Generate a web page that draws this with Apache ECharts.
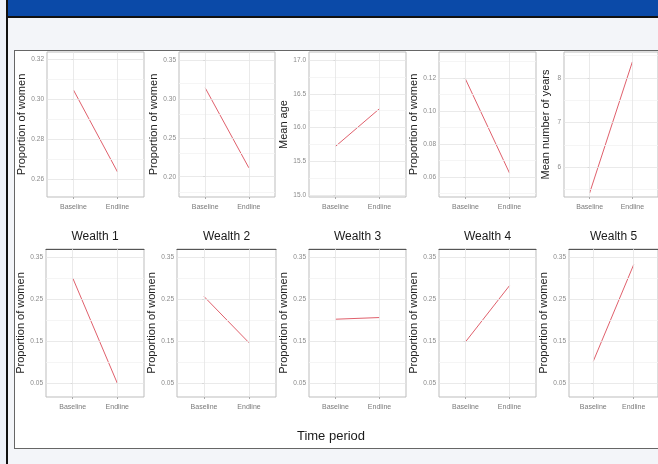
<!DOCTYPE html>
<html>
<head>
<meta charset="utf-8">
<script src="https://cdn.jsdelivr.net/npm/echarts@6/dist/echarts.min.js"></script>
<style>
  html, body { margin: 0; padding: 0; width: 658px; height: 464px; overflow: hidden; background: #f3f5f9; }
  #side { position: absolute; left: 0; top: 0; width: 6px; height: 464px; background: #eef2f9; border-right: 2px solid #111; }
  #bar { position: absolute; left: 8px; top: 0; width: 650px; height: 16px; background: #0b4aa8; border-bottom: 2px solid #111; }
  #frame { position: absolute; left: 14px; top: 50px; width: 660px; height: 397px; background: #fff; border: 1px solid #666; }
  #chart { position: absolute; left: 0; top: 0; width: 658px; height: 464px; }
</style>
</head>
<body>
<div id="side"></div>
<div id="bar"></div>
<div id="frame"></div>
<div id="chart"></div>
<script>
// Survey rounds on the x axis
const periods = ['Baseline', 'Endline'];

// Top row indicators
const womenShareA = [0.3045, 0.2635];
const womenShareB = [0.314, 0.2115];
const meanAge = [15.72, 16.28];
const womenShareD = [0.1194, 0.0624];
const meanYears = [5.42, 8.36];

// Wealth quintiles: proportion of women
const wealth1 = [0.300, 0.050];
const wealth2 = [0.256, 0.146];
const wealth3 = [0.202, 0.206];
const wealth4 = [0.148, 0.282];
const wealth5 = [0.102, 0.332];

// Tick labels
const ticksA = [0.26, 0.28, 0.30, 0.32];
const ticksB = [0.20, 0.25, 0.30, 0.35];
const ticksAge = [15.0, 15.5, 16.0, 16.5, 17.0];
const ticksD = [0.06, 0.08, 0.10, 0.12];
const ticksYears = [6, 7, 8];
const ticksWealth = [0.05, 0.15, 0.25, 0.35];

const wealthTitles = ['Wealth 1', 'Wealth 2', 'Wealth 3', 'Wealth 4', 'Wealth 5'];
const propLabel = 'Proportion of women';

// Panel layout (pixels) and axis ranges
const ROW1 = { top: 52, height: 145 };
const ROW2 = { top: 249, height: 148 };
const panels = [
  { vals: womenShareA, ticks: ticksA, dec: 2, min: 0.251, max: 0.3235, name: propLabel, left: 47, width: 97, row: ROW1, gap: 18 },
  { vals: womenShareB, ticks: ticksB, dec: 2, min: 0.174, max: 0.360, name: propLabel, left: 179, width: 96, row: ROW1, gap: 18 },
  { vals: meanAge, ticks: ticksAge, dec: 1, min: 14.97, max: 17.12, name: 'Mean age', left: 309, width: 97, row: ROW1, gap: 18 },
  { vals: womenShareD, ticks: ticksD, dec: 2, min: 0.0479, max: 0.1358, name: propLabel, left: 439, width: 97, row: ROW1, gap: 20 },
  { vals: meanYears, ticks: ticksYears, dec: 0, min: 5.33, max: 8.58, name: 'Mean number of years', left: 564, width: 100, row: ROW1, gap: 13 },
  { vals: wealth1, ticks: ticksWealth, dec: 2, min: 0.017, max: 0.369, name: propLabel, left: 46, width: 98, row: ROW2, gap: 17, title: wealthTitles[0] },
  { vals: wealth2, ticks: ticksWealth, dec: 2, min: 0.017, max: 0.369, name: propLabel, left: 177, width: 99, row: ROW2, gap: 16, title: wealthTitles[1] },
  { vals: wealth3, ticks: ticksWealth, dec: 2, min: 0.017, max: 0.369, name: propLabel, left: 309, width: 97, row: ROW2, gap: 18, title: wealthTitles[2] },
  { vals: wealth4, ticks: ticksWealth, dec: 2, min: 0.017, max: 0.369, name: propLabel, left: 439, width: 97, row: ROW2, gap: 18, title: wealthTitles[3] },
  { vals: wealth5, ticks: ticksWealth, dec: 2, min: 0.017, max: 0.369, name: propLabel, left: 569, width: 100, row: ROW2, gap: 18, title: wealthTitles[4] }
];

const FONT = '"Liberation Sans", Arial, sans-serif';

// Minor grid positions: halfway between major ticks, plus one step beyond each end when in range
function minorValues(ticks, min, max) {
  const out = [];
  const step = ticks[1] - ticks[0];
  const ext = [ticks[0] - step].concat(ticks);
  for (let i = 0; i < ext.length; i++) {
    const m = ext[i] + step / 2;
    if (m > min && m < max) out.push(m);
  }
  return out;
}

const grid = [], xAxis = [], yAxis = [], series = [];
panels.forEach((p, i) => {
  grid.push({
    left: p.left, top: p.row.top, width: p.width, height: p.row.height,
    show: true, backgroundColor: '#ffffff', borderColor: '#bdbdbd', borderWidth: 1
  });
  xAxis.push({
    gridIndex: i, type: 'value', position: 'bottom', min: -0.6, max: 1.6,
    axisLine: { show: false },
    axisTick: { show: true, customValues: [0, 1], length: 2, lineStyle: { color: '#aaaaaa' } },
    axisLabel: {
      customValues: [0, 1], formatter: v => periods[Math.round(v)],
      fontSize: 7, color: '#7a7a7a', margin: 7, fontFamily: FONT
    },
    splitLine: { show: false }
  });
  yAxis.push({
    gridIndex: i, type: 'value', min: p.min, max: p.max,
    axisLine: { show: false },
    axisTick: { show: true, customValues: p.ticks, length: 2, lineStyle: { color: '#aaaaaa' } },
    axisLabel: {
      customValues: p.ticks, formatter: v => Number(v).toFixed(p.dec),
      fontSize: 6.5, color: '#8a8a8a', margin: 3, fontFamily: FONT
    },
    splitLine: { show: false },
    name: p.name, nameLocation: 'middle', nameGap: p.gap, nameRotate: 90,
    nameTextStyle: { fontSize: 11, color: '#222222', fontFamily: FONT }
  });

  // Panel grid lines drawn on the panel's own scales
  const lines = [];
  minorValues(p.ticks, p.min, p.max).forEach(v => lines.push({ yAxis: v, lineStyle: { color: '#f3f3f3' } }));
  p.ticks.forEach(v => lines.push({ yAxis: v, lineStyle: { color: '#e4e4e4' } }));
  [0, 1].forEach(v => lines.push({ xAxis: v, lineStyle: { color: '#e4e4e4' } }));
  series.push({
    type: 'line', xAxisIndex: i, yAxisIndex: i, data: [], z: 1, silent: true,
    markLine: {
      silent: true, symbol: ['none', 'none'], label: { show: false },
      emphasis: { disabled: true },
      lineStyle: { type: 'solid', width: 0.8 }, data: lines, animation: false
    }
  });

  series.push({
    type: 'line', xAxisIndex: i, yAxisIndex: i, z: 3, silent: true,
    data: p.vals.map((v, k) => [k, v]),
    symbol: 'none', emphasis: { disabled: true },
    lineStyle: { color: '#e0606c', width: 1 }
  });
});

// Strip titles for the wealth panels: a top axis carrying the title
panels.forEach((p, i) => {
  if (!p.title) return;
  xAxis.push({
    gridIndex: i, type: 'value', position: 'top', min: -0.6, max: 1.6,
    axisLine: { show: true, onZero: false, lineStyle: { color: '#555555', width: 1 } },
    axisTick: { show: false }, axisLabel: { show: false }, splitLine: { show: false },
    name: p.title, nameLocation: 'middle', nameGap: 6,
    nameTextStyle: { fontSize: 12, color: '#1a1a1a', fontFamily: FONT }
  });
});

const chart = echarts.init(document.getElementById('chart'), null, { renderer: 'canvas' });
chart.setOption({
  animation: false,
  backgroundColor: 'transparent',
  tooltip: { show: false },
  grid, xAxis, yAxis, series,
  graphic: [{
    type: 'text', x: 331, y: 436, silent: true,
    style: { text: 'Time period', fontSize: 13, fill: '#1a1a1a', font: '13px ' + FONT, textAlign: 'center', textVerticalAlign: 'middle' }
  }]
});
</script>
</body>
</html>
